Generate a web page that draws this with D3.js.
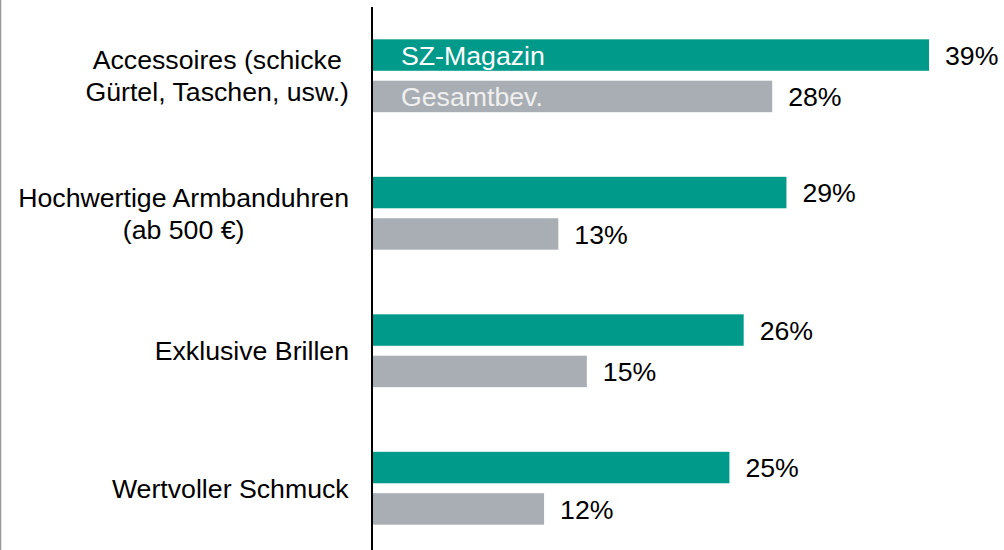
<!DOCTYPE html>
<html>
<head>
<meta charset="utf-8">
<script src="https://cdn.jsdelivr.net/npm/d3@7"></script>
<style>
  body { margin: 0; background: #fff; }
  text { font-family: "Liberation Sans", Arial, sans-serif; }
</style>
</head>
<body>
<div id="container"></div>
<script>
/** CONSTANTS AND GLOBALS */
const width = 1004,
  height = 550,
  margin = { top: 7, bottom: -7, left: 372, right: 40 };
const fontSize = 26.7;

// data
const categories = [
  ["Accessoires (schicke", "Gürtel, Taschen, usw.)"],
  ["Hochwertige Armbanduhren", "(ab 500 €)"],
  ["Exklusive Brillen"],
  ["Wertvoller Schmuck"]
];
const series = ["SZ-Magazin", "Gesamtbev."];
const szMagazin = [39, 29, 26, 25];
const gesamtbev = [28, 13, 15, 12];

const colors = { "SZ-Magazin": "#009a8a", "Gesamtbev.": "#a8aeb3" };
const legendText = { "SZ-Magazin": "#ffffff", "Gesamtbev.": "#f0f0f0" };

const svg = d3.select("#container")
  .append("svg")
  .attr("width", width)
  .attr("height", height);

const catKeys = categories.map(d => d.join(" "));

const y = d3.scaleBand()
  .domain(catKeys)
  .range([margin.top, height - margin.bottom])
  .paddingInner(0.47)
  .paddingOuter(0.235);

const ySub = d3.scaleBand()
  .domain(series)
  .range([0, y.bandwidth()])
  .paddingInner(0.24);

const x = d3.scaleLinear()
  .domain([0, 39])
  .range([margin.left + 1, 929]);

const rows = catKeys.map((k, i) => ({
  key: k,
  lines: categories[i],
  values: [
    { s: series[0], v: szMagazin[i] },
    { s: series[1], v: gesamtbev[i] }
  ]
}));

// left border
svg.append("line")
  .attr("x1", 0.5).attr("x2", 0.5)
  .attr("y1", 0).attr("y2", height)
  .attr("stroke", "#9a9a9a")
  .attr("stroke-width", 1.5);

const groups = svg.selectAll("g.cat")
  .data(rows)
  .join("g")
  .attr("class", "cat")
  .attr("transform", d => `translate(0,${y(d.key)})`);

groups.selectAll("rect")
  .data(d => d.values)
  .join("rect")
  .attr("x", x(0))
  .attr("y", d => ySub(d.s))
  .attr("width", d => x(d.v) - x(0))
  .attr("height", ySub.bandwidth())
  .attr("fill", d => colors[d.s]);

groups.selectAll("text.val")
  .data(d => d.values)
  .join("text")
  .attr("class", "val")
  .attr("x", d => x(d.v) + 16)
  .attr("y", d => ySub(d.s) + ySub.bandwidth() / 2)
  .attr("dy", "0.36em")
  .attr("font-size", fontSize)
  .attr("fill", "#000")
  .text(d => d.v + "%");

// category labels: lines centered on each other, block right-aligned
const labelRight = 349;
const lineH = 32;
groups.each(function(d) {
  const g = d3.select(this);
  const n = d.lines.length;
  const t = g.append("text")
    .attr("font-size", fontSize)
    .attr("text-anchor", "middle")
    .attr("fill", "#000");
  d.lines.forEach((line, j) => {
    t.append("tspan")
      .attr("x", 0)
      .attr("y", y.bandwidth() / 2 + (j - (n - 1) / 2) * lineH)
      .attr("dy", "0.36em")
      .text(line);
  });
  const bb = t.node().getBBox();
  t.attr("transform", `translate(${labelRight - bb.width / 2},0)`);
});

// legend inside first bars
const first = rows[0];
svg.selectAll("text.legend")
  .data(series)
  .join("text")
  .attr("class", "legend")
  .attr("x", 401)
  .attr("y", s => y(first.key) + ySub(s) + ySub.bandwidth() / 2)
  .attr("dy", "0.36em")
  .attr("font-size", fontSize)
  .attr("fill", s => legendText[s])
  .text(s => s);

// axis line
svg.append("line")
  .attr("x1", margin.left).attr("x2", margin.left)
  .attr("y1", 7).attr("y2", height)
  .attr("stroke", "#000")
  .attr("stroke-width", 2);
</script>
</body>
</html>
